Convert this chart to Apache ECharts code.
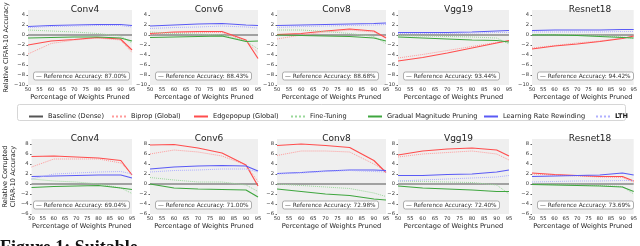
<!DOCTYPE html>
<html><head><meta charset="utf-8">
<script src="https://cdn.jsdelivr.net/npm/echarts@6/dist/echarts.min.js"></script>
<style>html,body{margin:0;padding:0;background:#fff}#c{width:640px;height:246px}</style>
</head><body><div id="c"></div>
<script>
const xPruned = [50, 60, 70, 80, 90, 95];
const models = ['Conv4', 'Conv6', 'Conv8', 'Vgg19', 'Resnet18'];
const refTop = ['87.00%', '88.43%', '88.68%', '93.44%', '94.42%'];
const refBottom = ['69.04%', '71.00%', '72.98%', '72.40%', '73.69%'];
const seriesNames = ['Baseline (Dense)', 'Biprop (Global)', 'Edgepopup (Global)', 'Fine-Tuning', 'Gradual Magnitude Pruning', 'Learning Rate Rewinding', 'LTH'];
const baselineVals = [0, 0, 0, 0, 0, 0];

// top row: relative CIFAR-10 accuracy
const bipropTop = [
  [-3.8, -1.7, -1.0, -0.6, -1.0, -3.5],
  [0.1, 0.5, 0.5, 0.5, -1.2, -3.5],
  [-0.8, 0.0, 0.6, 1.0, 0.6, -0.3],
  [-4.6, -3.9, -3.1, -2.3, -1.5, -1.2],
  [-2.6, -2.1, -1.6, -1.2, -0.6, -0.3]
];
const edgeTop = [
  [-2.0, -1.2, -0.9, -0.5, -0.8, -3.0],
  [0.3, 0.6, 0.7, 0.7, -1.0, -4.7],
  [0.1, 0.3, 0.8, 1.2, 0.8, -0.6],
  [-5.2, -4.5, -3.6, -2.6, -1.6, -1.1],
  [-2.8, -2.2, -1.8, -1.3, -0.7, -0.2]
];
const ftTop = [
  [1.0, 0.8, 0.6, 0.3, -0.2, -1.6],
  [0.6, 0.3, 0.2, 0.0, -1.2, -2.8],
  [1.0, 1.0, 0.7, 0.3, -0.3, -1.7],
  [-0.1, -0.2, -0.3, -0.4, -0.6, -1.8],
  [0.1, 0.1, 0.0, -0.1, -0.4, -0.7]
];
const gmpTop = [
  [-0.6, -0.5, -0.4, -0.4, -0.6, -1.2],
  [-0.5, -0.4, -0.3, -0.2, -1.3, -1.2],
  [0.0, -0.1, -0.2, -0.3, -0.6, -1.2],
  [-0.4, -0.6, -0.8, -1.0, -1.1, -1.4],
  [0.0, 0.0, -0.1, -0.3, -0.5, -0.6]
];
const lrrTop = [
  [1.7, 1.9, 2.0, 2.1, 2.1, 1.9],
  [1.8, 2.0, 2.2, 2.3, 2.0, 1.9],
  [1.9, 2.0, 2.1, 2.2, 2.3, 2.4],
  [0.5, 0.5, 0.5, 0.6, 0.8, 0.9],
  [0.9, 1.0, 1.0, 1.0, 1.1, 1.1]
];
const lthTop = [
  [1.5, 1.7, 1.8, 1.9, 1.9, 1.6],
  [1.3, 1.5, 1.6, 1.8, 1.6, 1.4],
  [1.5, 1.7, 1.8, 1.9, 2.0, 2.1],
  [0.3, 0.3, 0.3, 0.4, 0.5, 0.5],
  [0.6, 0.6, 0.6, 0.6, 0.7, 0.7]
];

// bottom row: relative corrupted CIFAR-10 accuracy
const bipropBottom = [
  [3.4, 5.0, 5.0, 5.0, 4.2, 2.0],
  [6.0, 6.8, 6.4, 5.6, 3.8, 0.5],
  [5.7, 6.6, 6.6, 6.4, 4.0, 2.6],
  [5.4, 6.0, 6.3, 6.6, 6.0, 4.8],
  [2.0, 1.8, 1.6, 1.4, 1.3, 0.4]
];
const edgeBottom = [
  [5.5, 5.6, 5.4, 5.2, 4.7, 1.8],
  [7.8, 7.9, 7.2, 6.2, 3.8, -0.4],
  [7.7, 8.0, 7.7, 7.3, 4.7, 2.3],
  [5.8, 6.6, 7.0, 7.2, 6.8, 5.6],
  [2.2, 1.9, 1.7, 1.5, 1.5, 0.6]
];
const ftBottom = [
  [1.0, 0.6, 0.4, 0.0, -0.8, -1.9],
  [1.3, 0.8, 0.4, 0.4, -0.2, -1.5],
  [0.0, -0.3, -0.6, -0.9, -1.8, -2.5],
  [0.6, 0.5, 0.4, 0.3, -0.2, -2.0],
  [0.0, -0.1, -0.2, -0.3, -0.5, -2.0]
];
const gmpBottom = [
  [-0.7, -0.5, -0.4, -0.3, -0.8, -1.1],
  [0.0, -0.8, -1.0, -1.1, -1.2, -2.6],
  [-1.0, -1.5, -2.0, -2.3, -3.0, -3.2],
  [-0.4, -0.8, -1.0, -1.2, -1.5, -1.5],
  [-0.1, -0.2, -0.3, -0.4, -0.6, -1.5]
];
const lrrBottom = [
  [1.5, 1.6, 1.7, 1.8, 1.8, 1.2],
  [3.0, 3.4, 3.6, 3.7, 3.6, 2.6],
  [2.1, 2.3, 2.6, 2.8, 2.8, 2.7],
  [1.7, 1.7, 1.9, 2.0, 2.4, 2.8],
  [1.5, 1.6, 1.7, 1.8, 2.2, 1.8]
];
const lthBottom = [
  [1.0, 2.0, 2.2, 2.4, 2.5, 2.0],
  [2.4, 2.7, 2.8, 3.0, 3.0, 2.4],
  [2.0, 2.2, 2.5, 2.7, 2.5, 2.4],
  [0.6, 0.8, 1.0, 1.2, 1.4, 1.7],
  [0.4, 0.5, 0.6, 0.6, 0.7, 0.7]
];

const styles = [
  {color: '#555555', type: 'solid'},
  {color: '#ff9a9a', type: 'dotted'},
  {color: '#ff4d4d', type: 'solid'},
  {color: '#9ad89a', type: 'dotted'},
  {color: '#3fa63f', type: 'solid'},
  {color: '#5a5af5', type: 'solid'},
  {color: '#b0b0ff', type: 'dotted'}
];

const FONT = 'DejaVu Sans';
const lefts = [28, 150, 277, 398, 532];
const widths = [104, 108, 109, 111, 106];
const rows = [
  {top: 10, height: 75, min: -10, max: 5, name: 'Relative CIFAR-10 Accuracy', ref: refTop,
   data: [baselineVals, bipropTop, edgeTop, ftTop, gmpTop, lrrTop, lthTop]},
  {top: 139, height: 75, min: -6, max: 9, name: 'Relative Corrupted\nCIFAR-10 Accuracy', ref: refBottom,
   data: [baselineVals, bipropBottom, edgeBottom, ftBottom, gmpBottom, lrrBottom, lthBottom]}
];

const grid = [], xAxis = [], yAxis = [], series = [], title = [];
const fmt = v => v < 0 ? '\u2212' + Math.abs(v) : String(v);
rows.forEach((row, r) => {
  models.forEach((m, i) => {
    const gi = grid.length;
    grid.push({left: lefts[i], top: row.top, width: widths[i], height: row.height,
      show: true, backgroundColor: '#efefef', borderWidth: 0});
    xAxis.push({gridIndex: gi, type: 'value', min: 50, max: 95, interval: 5,
      name: 'Percentage of Weights Pruned', nameLocation: 'middle', nameGap: 9,
      nameTextStyle: {fontFamily: FONT, fontSize: 6.6, color: '#222'},
      axisLine: {show: false}, axisTick: {show: false}, splitLine: {show: false},
      axisLabel: {fontFamily: FONT, fontSize: 5.2, color: '#333', margin: 2}});
    yAxis.push({gridIndex: gi, type: 'value', min: row.min, max: row.max, interval: 2,
      name: i === 0 ? row.name : '', nameLocation: 'middle', nameGap: r === 0 ? 16 : 12,
      nameTextStyle: {fontFamily: FONT, fontSize: 6.6, color: '#222', lineHeight: 8},
      axisLine: {show: false}, axisTick: {show: true, length: 1.5, lineStyle: {color: '#666'}},
      splitLine: {show: false},
      axisLabel: {fontFamily: FONT, fontSize: 5.2, color: '#333', margin: 3, showMaxLabel: false, formatter: fmt}});
    title.push({text: m, left: lefts[i] + widths[i] / 2, top: row.top - 10, textAlign: 'center',
      textStyle: {fontFamily: FONT, fontSize: 9, fontWeight: 'normal', color: '#222'}});
    title.push({text: '{l|\u2014} Reference Accuracy: ' + row.ref[i],
      left: lefts[i] + 5, top: row.top + row.height - 13, padding: [1.5, 3, 1, 3],
      backgroundColor: '#ffffff', borderColor: '#999999', borderWidth: 0.8, borderRadius: 2,
      textStyle: {fontFamily: FONT, fontSize: 5.8, fontWeight: 'normal', color: '#333',
        rich: {l: {color: '#444', fontSize: 5.8, fontFamily: FONT}}}});
    row.data.forEach((arr, s) => {
      series.push({type: 'line', name: seriesNames[s], xAxisIndex: gi, yAxisIndex: gi,
        data: xPruned.map((x, k) => [x, arr === baselineVals ? arr[k] : arr[i][k]]),
        symbol: 'none', silent: true, animation: false, z: s === 0 ? 1 : 2 + s,
        lineStyle: {color: styles[s].color, type: styles[s].type, width: styles[s].type === 'solid' ? 1.2 : 1},
        itemStyle: {color: styles[s].color}});
    });
  });
});

const legendLeft = [23, 106, 188, 285, 362, 478, 590];
const legend = seriesNames.map((n, k) => ({
  data: [n], left: legendLeft[k], top: 108, itemWidth: 14, itemHeight: 6, itemGap: 0,
  selectedMode: false,
  itemStyle: {opacity: 0, borderWidth: 0},
  textStyle: {fontFamily: FONT, fontSize: 6.6, color: '#222', fontWeight: k === 6 ? 'bold' : 'normal'}
}));

const chart = echarts.init(document.getElementById('c'), null, {renderer: 'canvas'});
chart.setOption({
  animation: false,
  backgroundColor: '#ffffff',
  title, grid, xAxis, yAxis, series, legend,
  graphic: [
    {type: 'rect', shape: {x: 17.5, y: 104.5, width: 608, height: 16, r: 2}, z: -1,
      style: {fill: '#ffffff', stroke: '#cccccc', lineWidth: 0.8}},
    {type: 'text', left: 0, top: 239, style: {text: 'Figure 1: Suitable', fontFamily: 'Liberation Serif', fontSize: 18, fontWeight: 'bold', fill: '#111'}}
  ]
});
</script></body></html>
